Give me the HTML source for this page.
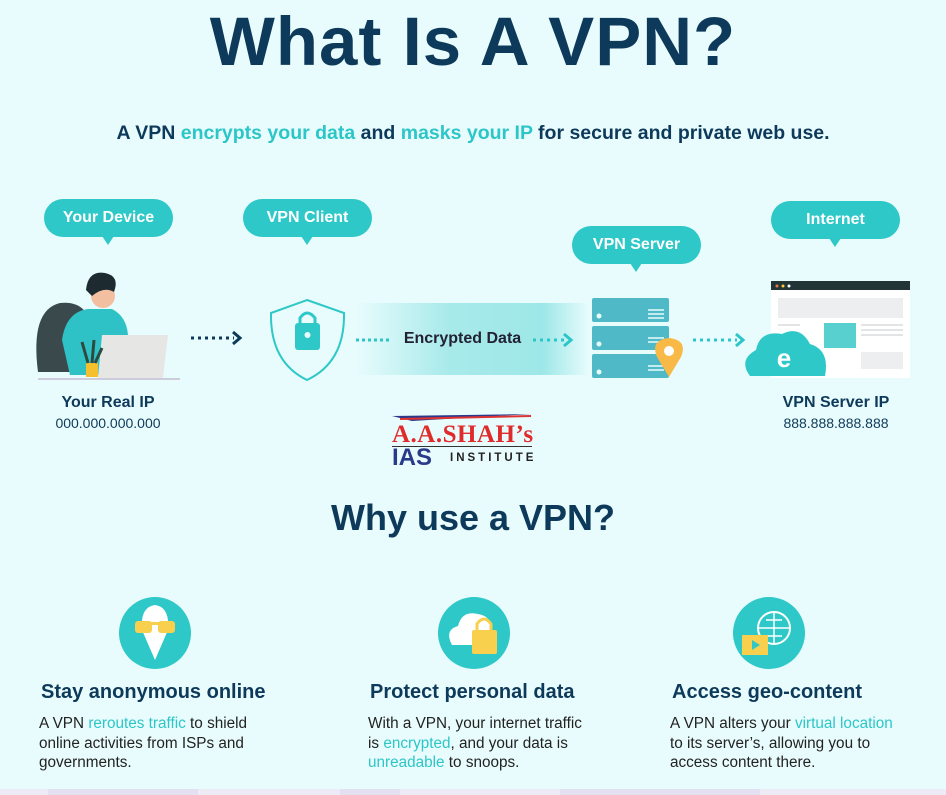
<!DOCTYPE html>
<html><head><meta charset="utf-8"><style>
body{margin:0;width:946px;height:795px;overflow:hidden;background:#e9fcfd;font-family:"Liberation Sans",sans-serif;position:relative}
.a{position:absolute}
.nv{color:#0d3a5a}
.tl{color:#2cc6c8}
.bub{position:absolute;width:129px;height:38px;border-radius:19px;background:#2ec8c8;color:#fff;font-weight:bold;font-size:16px;text-align:center;line-height:38px}
.bub:after{content:"";position:absolute;left:58px;bottom:-8px;border-left:6px solid transparent;border-right:6px solid transparent;border-top:9px solid #2ec8c8}
.h{font-weight:bold;font-size:20px;color:#0d3a5a}
.p{font-size:15.3px;line-height:19.5px;color:#222}
</style></head><body>
<div class="a nv" style="left:0;width:946px;top:2px;text-align:center;font-size:69px;font-weight:bold;letter-spacing:1px">What Is A VPN?</div>
<div class="a nv" style="left:0;width:946px;top:122px;text-align:center;font-size:19.5px;font-weight:bold">A VPN <span class="tl">encrypts your data</span> and <span class="tl">masks your IP</span> for secure and private web use.</div>
<div class="bub" style="left:44px;top:199px">Your Device</div>
<div class="bub" style="left:243px;top:199px">VPN Client</div>
<div class="bub" style="left:572px;top:226px">VPN Server</div>
<div class="bub" style="left:771px;top:201px">Internet</div>
<div class="a" style="left:355px;top:303px;width:235px;height:72px;background:linear-gradient(90deg,rgba(46,200,200,0),rgba(46,200,200,.35) 40%,rgba(46,200,200,.4) 80%,rgba(46,200,200,0))"></div>
<svg class="a" style="left:0;top:0" width="946" height="795">
<path d="M38 372 Q30 310 60 303 Q88 300 92 330 L95 372Z" fill="#3a4a4c"/>
<path d="M62 340 Q66 312 88 309 L112 309 Q130 318 128 345 L100 375 L70 375Z" fill="#2ec2c6"/>
<circle cx="103" cy="296" r="12" fill="#f2bfa0"/>
<path d="M86 290 Q88 270 105 273 Q120 276 114 292 Q104 286 92 296Z" fill="#1d2a30"/>
<path d="M102 335 L168 335 L163 378 L98 378Z" fill="#e6e6e4"/>
<rect x="86" y="363" width="12" height="14" fill="#f5c02d"/>
<path d="M88 363 L82 342 M92 363 L94 340 M95 363 L102 348" stroke="#2d4a40" stroke-width="3"/>
<rect x="38" y="378" width="142" height="2" fill="#ccd"/>
<path d="M191 338 H234" stroke="#0d3a5a" stroke-width="3" stroke-dasharray="3 4"/>
<path d="M233 332 L240 338 L233 344" stroke="#0d3a5a" stroke-width="3" fill="none"/>
<path d="M356 340 H391" stroke="#2cc6c8" stroke-width="3" stroke-dasharray="3 3"/>
<path d="M533 340 H565" stroke="#2cc6c8" stroke-width="3" stroke-dasharray="3 4"/>
<path d="M564 334 L571 340 L564 346" stroke="#2cc6c8" stroke-width="3" fill="none"/>
<path d="M693 340 H737" stroke="#2cc6c8" stroke-width="3" stroke-dasharray="3 4"/>
<path d="M736 334 L743 340 L736 346" stroke="#2cc6c8" stroke-width="3" fill="none"/>
<path d="M307 300 L344 313 Q345 362 307 380 Q270 362 271 313Z" fill="none" stroke="#2ec8c8" stroke-width="2"/>
<rect x="295" y="323" width="25" height="27" rx="3" fill="#2ec8c8"/>
<path d="M300 324 V318 Q307 308 315 318 V324" fill="none" stroke="#2ec8c8" stroke-width="3"/>
<circle cx="307.5" cy="335" r="3" fill="#e9fcfd"/>
<rect x="592" y="298" width="77" height="24" rx="2" fill="#4fb9c8"/>
<rect x="592" y="326" width="77" height="24" rx="2" fill="#4fb9c8"/>
<rect x="592" y="354" width="77" height="24" rx="2" fill="#4fb9c8"/>
<g fill="#e9fcfd"><circle cx="599" cy="316" r="2.5"/><circle cx="599" cy="344" r="2.5"/><circle cx="599" cy="372" r="2.5"/></g>
<path d="M648 310h16M648 314h16M648 318h16M648 338h16M648 342h16M648 366h16M648 370h16" stroke="#e9fcfd" stroke-width="1.5"/>
<path d="M669 377 L657 357 Q650 340 669 338 Q688 340 681 357Z" fill="#f9b946"/>
<circle cx="669" cy="351" r="5" fill="#fff"/>
<rect x="771" y="281" width="139" height="97" fill="#fff"/>
<rect x="771" y="281" width="139" height="9" fill="#223436"/>
<circle cx="777" cy="286" r="1.5" fill="#e74"/><circle cx="783" cy="286" r="1.5" fill="#fc3"/><circle cx="789" cy="286" r="1.5" fill="#fff"/>
<rect x="778" y="298" width="125" height="20" fill="#eceef0"/>
<rect x="824" y="323" width="32" height="25" fill="#58d0d0"/>
<rect x="861" y="352" width="42" height="17" fill="#eceef0"/>
<path d="M861 325h42M861 330h42M861 335h42M778 325h22" stroke="#e2e4e6" stroke-width="2"/>
<path d="M750 376 Q738 360 756 350 Q760 330 782 334 Q800 325 810 344 Q830 350 825 376Z" fill="#2ec8c8"/>
<text x="784" y="367" font-family="Liberation Sans" font-weight="bold" font-size="26" fill="#fff" text-anchor="middle">e</text>
<path d="M392 416 L531 414 L412 421Z" fill="#2a3a8a"/><path d="M400 419 L531 416" stroke="#d33" stroke-width="2"/>
<rect x="392" y="446" width="140" height="1" fill="#333"/>
<circle cx="155" cy="633" r="36" fill="#2ec8c8"/>
<path d="M142 630 Q140 607 155 605 Q170 607 168 630 L155 660Z" fill="#fff"/>
<rect x="135" y="621" width="17" height="12" rx="3" fill="#f9cf4e"/><rect x="158" y="621" width="17" height="12" rx="3" fill="#f9cf4e"/><rect x="150" y="622" width="10" height="3" fill="#f9cf4e"/>
<circle cx="474" cy="633" r="36" fill="#2ec8c8"/>
<path d="M452 645 Q444 630 458 626 Q462 610 478 614 Q492 616 492 632 L492 645Z" fill="#fff"/>
<rect x="472" y="630" width="25" height="24" rx="2" fill="#f9cf4e"/><path d="M477 630 V624 Q484 614 491 624 V630" fill="none" stroke="#f9cf4e" stroke-width="3"/>
<circle cx="769" cy="633" r="36" fill="#2ec8c8"/>
<circle cx="774" cy="628" r="16" fill="none" stroke="#fff" stroke-width="2"/>
<path d="M758 628h32M774 612v32M766 620h16M766 636h16" stroke="#fff" stroke-width="1.5"/>
<rect x="742" y="635" width="26" height="20" fill="#f9cf4e"/><path d="M752 640 L760 645 L752 650Z" fill="#2ec8c8"/>
<rect x="0" y="789" width="946" height="6" fill="#eeeaf6"/>
<rect x="48" y="789" width="150" height="6" fill="#e4e0f2"/><rect x="340" y="789" width="60" height="6" fill="#e4e0f2"/><rect x="560" y="789" width="200" height="6" fill="#e4e0f2"/>
</svg>
<div class="a" style="left:355px;top:330px;width:215px;text-align:center;font-size:16px;font-weight:bold;color:#223">Encrypted Data</div>
<div class="a nv" style="left:8px;width:200px;top:394px;text-align:center;font-size:16px;font-weight:bold">Your Real IP</div>
<div class="a nv" style="left:8px;width:200px;top:415px;text-align:center;font-size:14px">000.000.000.000</div>
<div class="a nv" style="left:736px;width:200px;top:394px;text-align:center;font-size:16px;font-weight:bold">VPN Server IP</div>
<div class="a nv" style="left:736px;width:200px;top:415px;text-align:center;font-size:14px">888.888.888.888</div>
<div class="a" style="left:392px;top:421px;font-family:'Liberation Serif',serif;font-weight:bold;font-size:25px;color:#e02b2b;letter-spacing:.5px">A.A.SHAH’s</div>
<div class="a" style="left:392px;top:444px;font-weight:bold;font-size:24px;color:#2a3a8a">IAS</div>
<div class="a" style="left:450px;top:452px;font-weight:bold;font-size:11.5px;color:#222;letter-spacing:3px">INSTITUTE</div>
<div class="a nv" style="left:0;width:946px;top:497px;text-align:center;font-size:36px;font-weight:bold">Why use a VPN?</div>
<div class="a h" style="left:41px;top:681px">Stay anonymous online</div>
<div class="a h" style="left:370px;top:681px">Protect personal data</div>
<div class="a h" style="left:672px;top:681px">Access geo-content</div>
<div class="a p" style="left:39px;top:714px">A VPN <span class="tl">reroutes traffic</span> to shield<br>online activities from ISPs and<br>governments.</div>
<div class="a p" style="left:368px;top:714px">With a VPN, your internet traffic<br>is <span class="tl">encrypted</span>, and your data is<br><span class="tl">unreadable</span> to snoops.</div>
<div class="a p" style="left:670px;top:714px">A VPN alters your <span class="tl">virtual location</span><br>to its server’s, allowing you to<br>access content there.</div>
</body></html>
